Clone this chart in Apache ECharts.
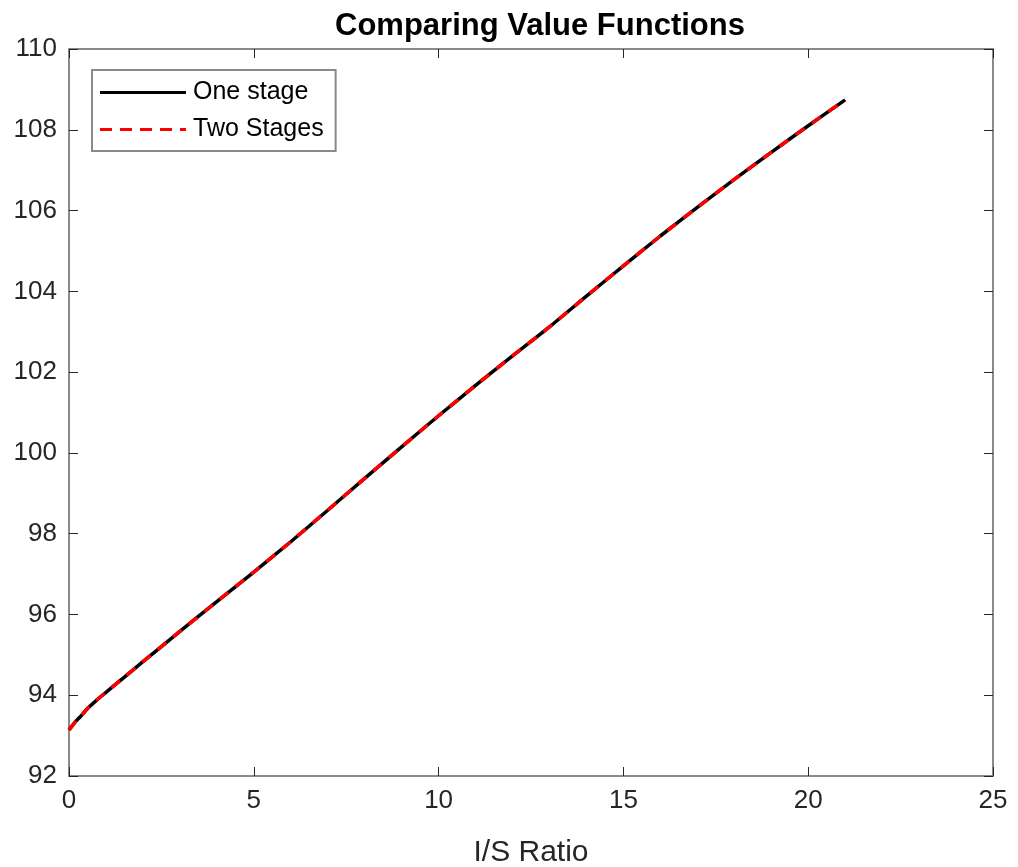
<!DOCTYPE html>
<html>
<head>
<meta charset="utf-8">
<script src="https://cdn.jsdelivr.net/npm/echarts@6/dist/echarts.min.js"></script>
<style>
html,body{margin:0;padding:0;background:#fff;}
#main{width:1018px;height:867px;}
</style>
</head>
<body>
<div id="main"></div>
<script>
var xValues = [0, 0.1, 0.2, 0.3, 0.5, 0.75, 1, 1.5, 2, 3, 4, 5, 6, 7, 8, 9, 10, 11, 12, 13, 14, 15, 16, 17, 18, 19, 20, 21];
var oneStage = [93.14, 93.26, 93.37, 93.46, 93.67, 93.88, 94.07, 94.45, 94.83, 95.58, 96.32, 97.05, 97.8, 98.58, 99.37, 100.15, 100.92, 101.67, 102.4, 103.12, 103.88, 104.63, 105.37, 106.08, 106.77, 107.44, 108.1, 108.74];
var twoStages = [93.14, 93.26, 93.37, 93.46, 93.67, 93.88, 94.07, 94.45, 94.83, 95.58, 96.32, 97.05, 97.8, 98.58, 99.37, 100.15, 100.92, 101.67, 102.4, 103.12, 103.88, 104.63, 105.37, 106.08, 106.77, 107.44, 108.1, 108.74];
var seriesNames = ['One stage', 'Two Stages'];
var titleText = 'Comparing Value Functions';
var xLabel = 'I/S Ratio';

function pairs(xs, ys) { return xs.map(function (x, i) { return [x, ys[i]]; }); }

var FONT = "'Liberation Sans', Arial, sans-serif";
var boxColor = '#8a8a8a';
var tickColor = '#262626';

var chart = echarts.init(document.getElementById('main'), null, {renderer: 'canvas'});
function sideAxis(extra) {
  return Object.assign({
    axisLine: {show: true, onZero: false, lineStyle: {color: boxColor, width: 2}},
    axisTick: {show: true, inside: true, length: 9, lineStyle: {color: tickColor, width: 1}},
    axisLabel: {show: false},
    splitLine: {show: false}
  }, extra);
}
chart.setOption({
  animation: false,
  backgroundColor: '#ffffff',
  title: {
    text: titleText,
    left: 535, top: 6, textAlign: 'center',
    textStyle: {fontFamily: FONT, fontSize: 31, fontWeight: 'bold', color: '#000'}
  },
  legend: {
    left: 92, top: 70,
    orient: 'vertical',
    itemWidth: 86, itemHeight: 14, itemGap: 12,
    padding: [10, 12, 9, 8],
    borderColor: '#8a8a8a', borderWidth: 2,
    backgroundColor: '#fff',
    textStyle: {fontFamily: FONT, fontSize: 25, color: '#000', padding: [0, 0, 0, 2]},
    data: [
      {name: seriesNames[0], icon: 'path://M0,0 L86,0 L86,3 L0,3 Z', itemStyle: {color: '#000'}},
      {name: seriesNames[1], icon: 'path://M0,0 L12,0 L12,3 L0,3 Z M20,0 L32,0 L32,3 L20,3 Z M40,0 L52,0 L52,3 L40,3 Z M60,0 L72,0 L72,3 L60,3 Z M80,0 L86,0 L86,3 L80,3 Z', itemStyle: {color: '#ff0000'}}
    ]
  },
  grid: {left: 69, right: 25, top: 49, bottom: 91, containLabel: false, outerBoundsMode: 'none'},
  xAxis: [{
    type: 'value', min: 0, max: 25, interval: 5,
    name: xLabel, nameLocation: 'middle', nameGap: 62,
    nameTextStyle: {fontFamily: FONT, fontSize: 30, color: '#262626'},
    axisLine: {show: true, onZero: false, lineStyle: {color: boxColor, width: 2}},
    axisTick: {show: true, inside: true, length: 9, lineStyle: {color: tickColor, width: 1}},
    axisLabel: {fontFamily: FONT, fontSize: 26, color: '#262626', margin: 12},
    splitLine: {show: false}
  }, sideAxis({type: 'value', position: 'top', min: 0, max: 25, interval: 5})],
  yAxis: [{
    type: 'value', min: 92, max: 110, interval: 2,
    axisLine: {show: true, onZero: false, lineStyle: {color: boxColor, width: 2}},
    axisTick: {show: true, inside: true, length: 9, lineStyle: {color: tickColor, width: 1}},
    axisLabel: {fontFamily: FONT, fontSize: 26, color: '#262626', margin: 12},
    splitLine: {show: false}
  }, sideAxis({type: 'value', position: 'right', min: 92, max: 110, interval: 2})],
  series: [{
    name: seriesNames[0], type: 'line', xAxisIndex: 0, yAxisIndex: 0,
    data: pairs(xValues, oneStage), showSymbol: false, smooth: 0.2,
    lineStyle: {color: '#000', width: 3.5},
    itemStyle: {color: '#000'}
  }, {
    name: seriesNames[1], type: 'line', xAxisIndex: 0, yAxisIndex: 0,
    data: pairs(xValues, twoStages), showSymbol: false, smooth: 0.2,
    lineStyle: {color: '#ff0000', width: 3.5, type: [11, 9]},
    itemStyle: {color: '#ff0000'}
  }]
});
</script>
</body>
</html>
